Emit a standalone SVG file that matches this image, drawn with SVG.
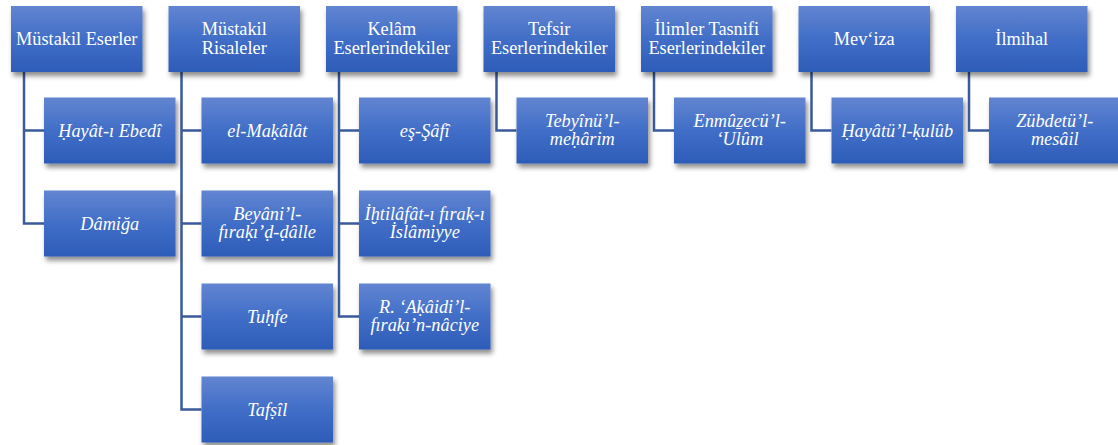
<svg xmlns="http://www.w3.org/2000/svg" width="1118" height="445" viewBox="0 0 1118 445">
<defs>
<linearGradient id="g" x1="0" y1="0" x2="0" y2="1">
<stop offset="0" stop-color="#6285D1"/>
<stop offset="0.5" stop-color="#416EC7"/>
<stop offset="1" stop-color="#2D5CB8"/>
</linearGradient>
<filter id="sh" x="-10%" y="-10%" width="125%" height="135%">
<feDropShadow dx="2" dy="4" stdDeviation="2.5" flood-color="#000" flood-opacity="0.45"/>
</filter>
</defs>
<style>
.box{fill:url(#g);filter:url(#sh);}
text{font-family:'Liberation Serif','Tinos','Times New Roman','DejaVu Serif',serif;font-size:18.3px;fill:#fff;text-anchor:middle;}
.i{font-style:italic;}
.c{fill:none;stroke:#3A5A9C;stroke-width:2.5;}
</style>
<g id="connectors">
<path class="c" d="M24 72V130.5H44M24 130.5V223.5H44"/>
<path class="c" d="M181.5 72V409.5H201.5M181.5 130.5H201.5M181.5 223.5H201.5M181.5 316.5H201.5"/>
<path class="c" d="M339 72V316.5H359M339 130.5H359M339 223.5H359"/>
<path class="c" d="M496.5 72V130.5H516.5"/>
<path class="c" d="M654 72V130.5H674"/>
<path class="c" d="M811.5 72V130.5H831.5"/>
<path class="c" d="M969 72V130.5H989"/>
</g>
<g id="n1"><rect class="box" x="11" y="6" width="131.5" height="66"/><text x="76.75" y="45">Müstakil Eserler</text></g>
<g id="n2"><rect class="box" x="168.5" y="6" width="131.5" height="66"/><text x="234.25" y="35">Müstakil</text><text x="234.25" y="54">Risaleler</text></g>
<g id="n3"><rect class="box" x="326" y="6" width="131.5" height="66"/><text x="391.75" y="35">Kelâm</text><text x="391.75" y="54">Eserlerindekiler</text></g>
<g id="n4"><rect class="box" x="483.5" y="6" width="131.5" height="66"/><text x="549.25" y="35">Tefsir</text><text x="549.25" y="54">Eserlerindekiler</text></g>
<g id="n5"><rect class="box" x="641" y="6" width="131.5" height="66"/><text x="706.75" y="35">İlimler Tasnifi</text><text x="706.75" y="54">Eserlerindekiler</text></g>
<g id="n6"><rect class="box" x="798.5" y="6" width="131.5" height="66"/><text x="864.25" y="45">Mev‘iza</text></g>
<g id="n7"><rect class="box" x="956" y="6" width="131.5" height="66"/><text x="1021.75" y="45">İlmihal</text></g>

<g id="c1a"><rect class="box" x="44" y="97.5" width="131.5" height="66"/><text class="i" x="109.75" y="136.5">Ḥayât-ı Ebedî</text></g>
<g id="c1b"><rect class="box" x="44" y="190.5" width="131.5" height="66"/><text class="i" x="109.75" y="229.5">Dâmiğa</text></g>

<g id="c2a"><rect class="box" x="201.5" y="97.5" width="131.5" height="66"/><text class="i" x="267.25" y="136.5">el-Maḳâlât</text></g>
<g id="c2b"><rect class="box" x="201.5" y="190.5" width="131.5" height="66"/><text class="i" x="267.25" y="219.5">Beyâni’l-</text><text class="i" x="267.25" y="238">fıraḳı’ḍ-ḍâlle</text></g>
<g id="c2c"><rect class="box" x="201.5" y="283.5" width="131.5" height="66"/><text class="i" x="267.25" y="322.5">Tuḥfe</text></g>
<g id="c2d"><rect class="box" x="201.5" y="376.5" width="131.5" height="66"/><text class="i" x="267.25" y="415.5">Tafṣîl</text></g>

<g id="c3a"><rect class="box" x="359" y="97.5" width="131.5" height="66"/><text class="i" x="424.75" y="136.5">eş-Şâfî</text></g>
<g id="c3b"><rect class="box" x="359" y="190.5" width="131.5" height="66"/><text class="i" x="424.75" y="219.5">İḫtilâfât-ı fıraḳ-ı</text><text class="i" x="424.75" y="238">İslâmiyye</text></g>
<g id="c3c"><rect class="box" x="359" y="283.5" width="131.5" height="66"/><text class="i" x="424.75" y="312.5">R. ‘Aḳâidi’l-</text><text class="i" x="424.75" y="331">fıraḳı’n-nâciye</text></g>

<g id="c4a"><rect class="box" x="516.5" y="97.5" width="131.5" height="66"/><text class="i" x="582.25" y="126.5">Tebyînü’l-</text><text class="i" x="582.25" y="145">meḥârim</text></g>
<g id="c5a"><rect class="box" x="674" y="97.5" width="131.5" height="66"/><text class="i" x="739.75" y="126.5">Enmûẕecü’l-</text><text class="i" x="739.75" y="145">‘Ulûm</text></g>
<g id="c6a"><rect class="box" x="831.5" y="97.5" width="131.5" height="66"/><text class="i" x="897.25" y="136.5">Ḥayâtü’l-ḳulûb</text></g>
<g id="c7a"><rect class="box" x="989" y="97.5" width="131.5" height="66"/><text class="i" x="1054.75" y="126.5">Zübdetü’l-</text><text class="i" x="1054.75" y="145">mesâil</text></g>
</svg>
